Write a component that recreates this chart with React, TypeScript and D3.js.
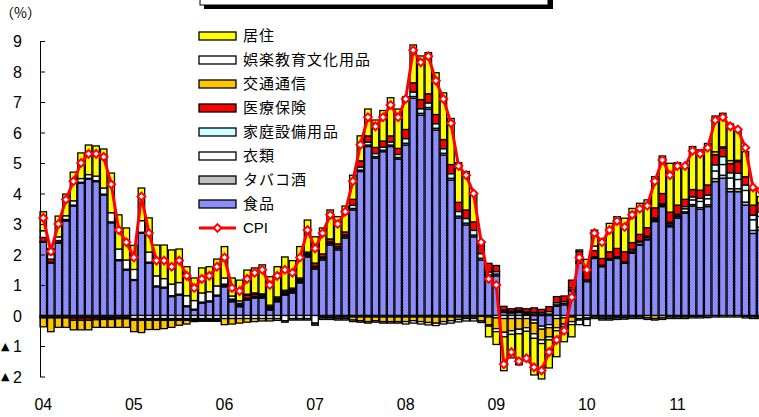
import React, { useEffect, useRef } from "react";
import * as d3 from "d3";

const yearLabels = ["04", "05", "06", "07", "08", "09", "10", "11"];
const months = yearLabels.flatMap((y) => d3.range(1, 13).map((m) => `${y}/${m}`));

// contribution to CPI (percentage points), monthly 2004/1 - 2011/12
const food = [
  2.4, 1.72, 2.37, 3.1, 3.59, 4.34, 4.47, 4.39, 3.95, 3.04, 1.8, 1.49,
  1.15, 2.7, 1.72, 0.94, 0.9, 0.62, 0.67, 0.29, 0.18, 0.41, 0.45, 0.64,
  0.94, 0.45, 0.29, 0.51, 0.57, 0.57, 0.18, 0.45, 0.67, 0.74, 1.07, 1.92,
  1.52, 1.82, 2.31, 2.15, 2.54, 3.46, 4.72, 5.54, 5.16, 5.37, 5.54, 5.13,
  5.59, 7.12, 6.57, 6.76, 6.08, 5.26, 4.44, 3.2, 2.97, 2.58, 1.82, 1.27,
  1.3, 0.1, 0.08, 0.1, 0.05, -0.15, -0.35, -0.3, 0.3, 0.35, 0.8, 1.71,
  1.11, 1.87, 1.6, 1.82, 1.87, 1.71, 2.04, 2.31, 2.48, 3.08, 3.57, 2.91,
  3.19, 3.35, 3.59, 3.48, 3.57, 4.39, 4.5, 4.06, 4.06, 3.62, 2.69, 2.8,
];
const tobacco = [
  0.03, 0.03, 0.03, 0.03, 0.03, 0.03, 0.03, 0.03, 0.03, 0.03, 0.03, 0.03,
  0.03, 0.03, 0.03, 0.03, 0.03, 0.03, 0.03, 0.03, 0.03, 0.03, 0.03, 0.03,
  0.03, 0.03, 0.03, 0.03, 0.03, 0.03, 0.03, 0.03, 0.03, 0.03, 0.03, 0.03,
  0.05, 0.05, 0.05, 0.05, 0.05, 0.05, 0.05, 0.05, 0.05, 0.05, 0.05, 0.05,
  0.06, 0.06, 0.06, 0.06, 0.06, 0.06, 0.06, 0.06, 0.06, 0.06, 0.06, 0.06,
  0.06, 0.04, 0.04, 0.04, 0.04, 0.05, 0.05, 0.05, 0.05, 0.05, 0.05, 0.03,
  0.03, 0.03, 0.03, 0.03, 0.03, 0.03, 0.03, 0.03, 0.03, 0.03, 0.03, 0.05,
  0.05, 0.05, 0.05, 0.06, 0.06, 0.1, 0.1, 0.1, 0.1, 0.1, 0.1, 0.1,
];
const clothing = [
  -0.05, -0.05, -0.05, -0.05, -0.05, -0.05, -0.05, -0.05, -0.05, -0.05, -0.05, -0.05,
  -0.1, -0.1, -0.1, -0.1, -0.1, -0.1, -0.1, -0.1, -0.1, -0.1, -0.1, -0.1,
  -0.1, -0.1, -0.1, -0.1, -0.1, -0.1, -0.1, -0.1, -0.17, -0.1, -0.1, -0.1,
  -0.25, -0.05, -0.05, -0.05, -0.05, -0.05, -0.05, -0.05, -0.05, -0.05, -0.05, -0.05,
  -0.05, -0.05, -0.05, -0.05, -0.05, -0.05, -0.05, -0.05, -0.05, -0.05, -0.03, -0.05,
  -0.08, -0.1, -0.1, -0.1, -0.1, -0.1, -0.1, -0.1, -0.1, -0.08, -0.05, -0.1,
  -0.08, -0.05, -0.05, -0.05, -0.03, -0.02, 0.05, 0.07, 0.05, 0.04, 0.03, 0.05,
  0.05, 0.1, 0.15, 0.2, 0.2, 0.25, 0.35, 0.35, 0.3, 0.38, 0.35, 0.35,
];
const household = [
  -0.03, -0.03, -0.03, -0.03, -0.03, -0.03, -0.03, -0.03, -0.03, -0.03, -0.03, -0.03,
  -0.03, -0.03, -0.03, -0.03, -0.03, -0.03, -0.03, -0.03, -0.03, -0.03, -0.03, -0.03,
  0.03, 0.03, 0.03, 0.03, 0.03, 0.03, 0.03, 0.03, 0.03, 0.03, 0.03, 0.03,
  0.05, 0.05, 0.05, 0.05, 0.05, 0.1, 0.1, 0.1, 0.1, 0.1, 0.1, 0.1,
  0.15, 0.15, 0.15, 0.15, 0.15, 0.15, 0.15, 0.15, 0.15, 0.15, 0.15, 0.1,
  0.08, 0.04, 0.02, 0.03, 0.03, 0.05, 0.05, 0.08, 0.07, 0.06, 0.06, 0.04,
  0.03, 0.03, 0.02, 0.02, 0.03, 0.02, 0.05, 0.03, 0.05, 0.05, 0.04, 0.05,
  0.03, 0.07, 0.1, 0.1, 0.12, 0.2, 0.26, 0.17, 0.2, 0.18, 0.15, 0.15,
];
const medical = [
  0.13, 0.1, 0.06, 0.02, -0.08, -0.08, -0.08, -0.06, -0.05, -0.05, -0.03, -0.03,
  -0.03, -0.03, -0.03, -0.03, -0.03, -0.03, -0.03, -0.03, -0.03, -0.03, -0.03, -0.03,
  0.03, 0.03, 0.05, 0.1, 0.08, 0.05, 0.05, 0.05, 0.05, 0.05, 0.05, 0.05,
  0.1, 0.1, 0.1, 0.1, 0.1, 0.2, 0.2, 0.2, 0.2, 0.2, 0.2, 0.2,
  0.3, 0.3, 0.3, 0.3, 0.3, 0.3, 0.3, 0.3, 0.28, 0.28, 0.25, 0.28,
  0.2, 0.12, 0.08, 0.08, 0.1, 0.15, 0.1, 0.16, 0.2, 0.18, 0.25, 0.32,
  0.27, 0.2, 0.22, 0.22, 0.27, 0.33, 0.22, 0.22, 0.27, 0.33, 0.33, 0.33,
  0.3, 0.24, 0.24, 0.27, 0.33, 0.33, 0.27, 0.3, 0.38, 0.27, 0.33, 0.3,
];
const transport = [
  -0.29, -0.45, -0.31, -0.31, -0.31, -0.31, -0.31, -0.25, -0.26, -0.26, -0.28, -0.28,
  -0.37, -0.4, -0.3, -0.3, -0.27, -0.23, -0.16, -0.12, -0.04, -0.03, -0.03, -0.03,
  -0.2, -0.18, -0.15, -0.12, -0.1, -0.08, -0.08, -0.06, -0.05, -0.05, -0.05, -0.05,
  -0.02, -0.03, -0.03, -0.05, -0.05, -0.1, -0.12, -0.15, -0.12, -0.15, -0.15, -0.15,
  -0.15, -0.12, -0.15, -0.18, -0.2, -0.15, -0.12, -0.08, -0.05, -0.05, -0.15, -0.25,
  -0.35, -0.45, -0.4, -0.35, -0.3, -0.35, -0.35, -0.3, -0.3, -0.2, -0.15, -0.05,
  -0.05, -0.05, -0.05, -0.05, -0.05, -0.05, -0.05, -0.05, -0.08, -0.1, -0.08, -0.05,
  -0.05, -0.05, -0.03, -0.03, -0.02, 0.1, 0.05, 0.1, 0.05, -0.03, -0.05, -0.05,
];
const recreation = [
  0.22, 0.15, 0.12, 0.12, 0.14, 0.12, 0.12, 0.15, 0.2, 0.3, 0.35, 0.3,
  0.33, 0.38, 0.33, 0.33, 0.28, 0.38, 0.38, 0.33, 0.28, 0.3, 0.3, 0.3,
  0.2, 0.1, 0.08, 0.03, 0.03, 0.03, 0.05, 0.05, 0.05, 0.05, 0.05, 0.05,
  -0.05, -0.05, -0.05, -0.05, -0.05, -0.05, -0.05, -0.05, -0.05, -0.05, -0.05, -0.05,
  -0.08, -0.08, -0.08, -0.08, -0.08, -0.08, -0.08, -0.08, -0.08, -0.08, -0.05, -0.05,
  -0.1, -0.15, -0.12, -0.15, -0.12, -0.15, -0.12, -0.1, -0.1, -0.08, -0.1, -0.15,
  -0.2, 0.15, -0.05, -0.05, -0.05, -0.05, -0.05, -0.05, -0.05, -0.05, -0.05, -0.05,
  -0.05, -0.05, -0.05, -0.05, -0.05, -0.05, -0.05, -0.05, -0.05, -0.05, -0.05, -0.05,
];
const housing = [
  0.62, 0.2, 0.68, 0.71, 0.94, 0.84, 0.97, 0.99, 1.28, 1.3, 1.12, 1.05,
  0.79, 1.07, 1.12, 1.01, 1.1, 1.12, 1.1, 0.95, 0.74, 0.82, 0.82, 0.88,
  1.03, 0.59, 0.68, 0.79, 0.82, 0.95, 0.93, 0.99, 1.09, 0.9, 1.03, 1.05,
  0.86, 0.85, 0.95, 0.89, 0.85, 0.79, 0.82, 0.88, 0.9, 1.0, 1.25, 1.29,
  1.07, 1.24, 1.43, 1.35, 1.37, 1.53, 1.51, 1.3, 1.26, 0.88, 0.15, -0.35,
  -0.42, -1.11, -0.77, -1.02, -0.94, -1.2, -1.16, -0.92, -0.85, -0.5, -0.4, 0.05,
  0.4, 0.52, 0.6, 0.93, 1.04, 1.1, 1.12, 1.02, 0.91, 1.02, 1.23, 1.6,
  1.39, 1.12, 1.41, 1.32, 1.36, 1.17, 1.1, 1.2, 1.01, 0.82, 0.49, 0.2,
];
const cpi = [
  3.2, 2.1, 3.0, 3.8, 4.4, 5.0, 5.3, 5.3, 5.2, 4.3, 2.8, 2.4,
  1.9, 3.9, 2.7, 1.8, 1.8, 1.6, 1.8, 1.3, 0.9, 1.2, 1.3, 1.6,
  1.9, 0.9, 0.8, 1.2, 1.4, 1.5, 1.0, 1.3, 1.5, 1.4, 1.9, 2.8,
  2.2, 2.7, 3.3, 3.0, 3.4, 4.4, 5.6, 6.5, 6.2, 6.5, 6.9, 6.5,
  7.1, 8.7, 8.3, 8.5, 7.7, 7.1, 6.3, 4.9, 4.6, 4.0, 2.4, 1.2,
  1.0, -1.6, -1.2, -1.5, -1.4, -1.7, -1.8, -1.2, -0.8, -0.5, 0.6, 1.9,
  1.5, 2.7, 2.4, 2.8, 3.1, 2.9, 3.3, 3.5, 3.6, 4.4, 5.1, 4.6,
  4.9, 4.9, 5.4, 5.3, 5.5, 6.4, 6.5, 6.2, 6.1, 5.5, 4.2, 4.1,
];

const seriesKeys = ["food", "tobacco", "clothing", "household", "medical", "transport", "recreation", "housing"];
const seriesValues: Record<string, number[]> = { food, tobacco, clothing, household, medical, transport, recreation, housing };
const seriesNames: Record<string, string> = {
  housing: "居住",
  recreation: "娯楽教育文化用品",
  transport: "交通通信",
  medical: "医療保険",
  household: "家庭設備用品",
  clothing: "衣類",
  tobacco: "タバコ酒",
  food: "食品",
};
const seriesColors: Record<string, string> = {
  housing: "#ffff00",
  recreation: "#ffffff",
  transport: "#ffc600",
  medical: "#ff0000",
  household: "#ccffff",
  clothing: "#ffffff",
  tobacco: "#c0c0c0",
  food: "url(#foodHatch)",
};
const legendOrder = ["housing", "recreation", "transport", "medical", "household", "clothing", "tobacco", "food"];
const yTicks = [-2, -1, 0, 1, 2, 3, 4, 5, 6, 7, 8, 9];

const W = 759;
const H = 417;
const latin = "'Liberation Sans', Arial, sans-serif";
const cjk = "'Noto Sans CJK JP', sans-serif";

export default function App() {
  const svgRef = useRef<SVGSVGElement>(null);

  useEffect(() => {
    const svg = d3.select(svgRef.current);
    svg.selectAll("*").remove();

    const defs = svg.append("defs");
    const pat = defs
      .append("pattern")
      .attr("id", "foodHatch")
      .attr("patternUnits", "userSpaceOnUse")
      .attr("width", 3)
      .attr("height", 3);
    pat.append("rect").attr("width", 3).attr("height", 3).attr("fill", "#9494ff");
    pat
      .append("path")
      .attr("d", "M-1,1 l2,-2 M0,3 l3,-3 M2,4 l2,-2")
      .attr("stroke", "#7878f2")
      .attr("stroke-width", 0.8);

    // scales
    const x = d3
      .scaleBand<number>()
      .domain(d3.range(months.length))
      .range([39.5, 39.5 + 96 * 7.55])
      .paddingInner(0.14)
      .paddingOuter(0.07);
    const y = d3.scaleLinear().domain([-2, 9]).range([376.5, 41]);

    // title box (cut at top)
    svg.append("rect").attr("x", 204).attr("y", -10).attr("width", 349).attr("height", 19).attr("fill", "#000");
    svg
      .append("rect")
      .attr("x", 200)
      .attr("y", -10)
      .attr("width", 348)
      .attr("height", 15)
      .attr("fill", "#fff")
      .attr("stroke", "#000")
      .attr("stroke-width", 1);

    svg
      .append("text")
      .attr("x", 0)
      .attr("y", 18)
      .attr("font-family", cjk)
      .attr("font-size", 14)
      .text("（%）");

    // stacked bars
    const rows = months.map((m, i) => {
      const r: Record<string, number> = { i };
      seriesKeys.forEach((k) => (r[k] = seriesValues[k][i]));
      return r;
    });
    const stacked = d3.stack<Record<string, number>>().keys(seriesKeys).offset(d3.stackOffsetDiverging)(rows);

    const barG = svg.append("g");
    stacked.forEach((s) => {
      barG
        .append("g")
        .attr("fill", seriesColors[s.key])
        .attr("stroke", "#000")
        .attr("stroke-width", 1.3)
        .selectAll("rect")
        .data(s.filter((d) => Math.abs(d[1] - d[0]) > 0.001))
        .join("rect")
        .attr("x", (d) => x(d.data.i)!)
        .attr("width", x.bandwidth())
        .attr("y", (d) => y(Math.max(d[0], d[1])))
        .attr("height", (d) => Math.abs(y(d[0]) - y(d[1])));
    });

    // y axis
    const yAxis = d3.axisLeft(y).tickValues(yTicks).tickSizeInner(-5).tickSizeOuter(0).tickPadding(18)
      .tickFormat((v) => String(Math.abs(+v)));
    const yG = svg.append("g").attr("transform", "translate(40,0)").call(yAxis);
    yG.selectAll("text").attr("font-family", latin).attr("font-size", 16).attr("fill", "#000").attr("dy", "0.36em");
    yG.selectAll("line, path").attr("stroke", "#000");
    yTicks
      .filter((v) => v < 0)
      .forEach((v) => {
        svg
          .append("text")
          .attr("x", 1)
          .attr("y", y(v))
          .attr("dy", "0.36em")
          .attr("text-anchor", "start")
          .attr("font-family", "'DejaVu Sans', sans-serif")
          .attr("font-size", 11)
          .text("▲");
      });

    // x labels
    svg
      .append("g")
      .selectAll("text")
      .data(yearLabels)
      .join("text")
      .attr("x", (d, j) => x(j * 12)! + x.bandwidth() / 2)
      .attr("y", 410)
      .attr("text-anchor", "middle")
      .attr("font-family", latin)
      .attr("font-size", 16)
      .text((d) => d);

    // CPI line
    const cx = (i: number) => x(i)! + x.bandwidth() / 2;
    const line = d3
      .line<number>()
      .x((d, i) => cx(i))
      .y((d) => y(d));
    svg.append("path").attr("d", line(cpi)).attr("fill", "none").attr("stroke", "#ff0000").attr("stroke-width", 3);

    const marker = d3.symbol(d3.symbolSquare, 30);
    svg
      .append("g")
      .selectAll("path")
      .data(cpi)
      .join("path")
      .attr("d", marker)
      .attr("transform", (d, i) => `translate(${cx(i)},${y(d)}) rotate(45)`)
      .attr("fill", "#fff")
      .attr("stroke", "#ff0000")
      .attr("stroke-width", 2);

    // legend
    const lg = svg.append("g");
    legendOrder.forEach((k, j) => {
      const cy = 36 + j * 24;
      lg.append("rect")
        .attr("x", 199)
        .attr("y", cy - 4)
        .attr("width", 37)
        .attr("height", 8)
        .attr("fill", seriesColors[k])
        .attr("stroke", "#000")
        .attr("stroke-width", 1.3);
      lg.append("text")
        .attr("x", 243)
        .attr("y", cy)
        .attr("dy", "0.36em")
        .attr("font-family", cjk)
        .attr("font-size", 15)
        .attr("letter-spacing", 1)
        .text(seriesNames[k]);
    });
    const cpiY = 36 + 8 * 24;
    lg.append("line").attr("x1", 199).attr("x2", 236).attr("y1", cpiY).attr("y2", cpiY)
      .attr("stroke", "#ff0000").attr("stroke-width", 3);
    lg.append("path")
      .attr("d", marker)
      .attr("transform", `translate(217.5,${cpiY}) rotate(45)`)
      .attr("fill", "#fff")
      .attr("stroke", "#ff0000")
      .attr("stroke-width", 2);
    lg.append("text")
      .attr("x", 243)
      .attr("y", cpiY)
      .attr("dy", "0.36em")
      .attr("font-family", latin)
      .attr("font-size", 15)
      .text("CPI");
  }, []);

  return (
    <svg
      ref={svgRef}
      width={W}
      height={H}
      style={{ position: "absolute", left: 0, top: 0, background: "#fff" }}
    ></svg>
  );
}
